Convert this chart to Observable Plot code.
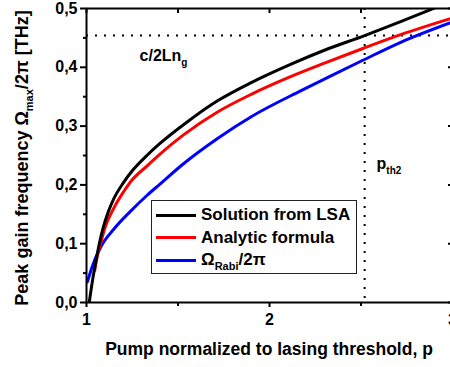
<!DOCTYPE html>
<html><head><meta charset="utf-8">
<script src="https://cdn.jsdelivr.net/npm/d3@7"></script>
<script src="https://cdn.jsdelivr.net/npm/@observablehq/plot@0.6"></script>
<style>
html,body{margin:0;padding:0;background:#fff;overflow:hidden;}
#wrap{position:relative;width:450px;height:367px;overflow:hidden;}
#wrap svg text{font-family:"Liberation Sans",Arial,sans-serif;font-weight:bold;}
#legend{position:absolute;left:151px;top:200px;width:206px;height:74px;border:1px solid #222;background:#fff;font:bold 17px "Liberation Sans",Arial,sans-serif;padding-top:3px;box-sizing:border-box;color:#000;}
#legend .row{height:22.5px;display:flex;align-items:center;white-space:nowrap;}
#legend .sw{width:40px;height:3px;margin-left:4px;margin-right:5px;flex:none;}
#legend sub{font-size:11px;vertical-align:-5px;line-height:0;}
</style>
</head><body><div id="wrap"></div>
<script>
// Solution from LSA (black)
const lsaP = [1.015, 1.03, 1.05, 1.07, 1.09, 1.12, 1.15, 1.2, 1.25, 1.33, 1.4, 1.55, 1.716, 1.9, 2.115, 2.3, 2.52, 2.72, 2.88, 2.95];
const lsaV = [0, 0.032, 0.068, 0.1, 0.126, 0.155, 0.177, 0.203, 0.224, 0.25, 0.27, 0.307, 0.343, 0.374, 0.405, 0.429, 0.454, 0.478, 0.498, 0.507];
// Analytic formula (red)
const anaP = [1.045, 1.06, 1.077, 1.1, 1.15, 1.2, 1.24, 1.33, 1.4, 1.53, 1.716, 1.9, 2.115, 2.3, 2.51, 2.72, 2.99];
const anaV = [0.055, 0.08, 0.1, 0.126, 0.161, 0.187, 0.205, 0.232, 0.252, 0.285, 0.324, 0.354, 0.384, 0.407, 0.432, 0.456, 0.483];
// Omega_Rabi / 2pi (blue)
const rabiP = [1.005, 1.03, 1.077, 1.15, 1.24, 1.33, 1.4, 1.53, 1.716, 1.9, 2.17, 2.3, 2.51, 2.72, 2.99];
const rabiV = [0.035, 0.06, 0.094, 0.125, 0.155, 0.182, 0.201, 0.236, 0.279, 0.316, 0.36, 0.38, 0.412, 0.443, 0.476];

const seriesNames = ["Solution from LSA", "Analytic formula", "Ω_{Rabi}/2π"];
const seriesColors = ["#000000", "#ff0000", "#0000ff"];

const cLevel = [0.454];   // c/2Ln_g
const pTh2 = [2.52];      // p_th2

const yMajor = [0, 0.1, 0.2, 0.3, 0.4, 0.5];
const yMinor = [0.05, 0.15, 0.25, 0.35, 0.45];
const xMajor = [1, 2, 3];
const xMinor = [1.5, 2.5];

const noteP = [1.29, 2.585];
const noteV = [0.42, 0.235];
const noteText = ["c/2Ln_{g}", "p_{th2}"];

const xTitle = "Pump normalized to lasing threshold, p";
const yTitle = "Peak gain frequency Ω_{max}/2π [THz]";

const toRows = (P, V) => P.map((p, i) => ({p, v: V[i]}));
const lsa = toRows(lsaP, lsaV), ana = toRows(anaP, anaV), rabi = toRows(rabiP, rabiV);
const notes = noteP.map((p, i) => ({p, v: noteV[i], label: noteText[i]}));

const commaFmt = d => d.toFixed(1).replace(".", ",");
const blank = () => "";

const chart = Plot.plot({
  width: 450, height: 367,
  marginLeft: 86, marginRight: -2, marginTop: 8, marginBottom: 65,
  x: {domain: [1, 3]},
  y: {domain: [0, 0.5]},
  style: {fontFamily: "Liberation Sans, Arial, sans-serif", fontSize: "16px", fontWeight: "bold", color: "#000", background: "#fff"},
  marks: [
    Plot.ruleY(cLevel, {strokeDasharray: "2,7", strokeWidth: 2, stroke: "#000"}),
    Plot.ruleX(pTh2, {strokeDasharray: "2,7", strokeWidth: 2, stroke: "#000"}),
    Plot.line(rabi, {x: "p", y: "v", stroke: seriesColors[2], strokeWidth: 3, curve: "monotone-x", clip: true}),
    Plot.line(ana, {x: "p", y: "v", stroke: seriesColors[1], strokeWidth: 3, curve: "monotone-x", clip: true}),
    Plot.line(lsa, {x: "p", y: "v", stroke: seriesColors[0], strokeWidth: 3, curve: "monotone-x", clip: true}),
    Plot.frame({strokeWidth: 2, stroke: "#000"}),
    Plot.axisY(yMajor, {anchor: "left", tickSize: 6, tickPadding: 3, tickFormat: commaFmt, strokeWidth: 2, label: null, fontSize: 16, fontWeight: "bold"}),
    Plot.axisY(yMinor, {anchor: "left", tickSize: 3, tickFormat: blank, strokeWidth: 2, label: null}),
    Plot.axisY(yMajor, {anchor: "right", tickSize: -5, tickFormat: blank, strokeWidth: 2, label: null}),
    Plot.axisY(yMinor, {anchor: "right", tickSize: -3, tickFormat: blank, strokeWidth: 2, label: null}),
    Plot.axisX(xMajor, {anchor: "bottom", tickSize: 5, tickPadding: 6, tickFormat: d => String(d), strokeWidth: 2, label: null, fontSize: 16, fontWeight: "bold"}),
    Plot.axisX(xMinor, {anchor: "bottom", tickSize: 4, tickFormat: blank, strokeWidth: 2, label: null}),
    Plot.axisX(xMajor.concat(xMinor), {anchor: "top", tickSize: -4, tickFormat: blank, strokeWidth: 2, label: null}),
    Plot.text(notes, {x: "p", y: "v", text: "label", textAnchor: "start", fontSize: 16, fontWeight: "bold", fill: "#000"})
  ]
});

function applySub(sel, str, subSize, shift) {
  sel.text(null);
  const parts = str.split(/(_\{[^}]*\})/);
  let down = false;
  for (const part of parts) {
    if (!part) continue;
    const m = part.match(/^_\{(.*)\}$/);
    if (m) {
      sel.append("tspan").attr("dy", shift).attr("font-size", subSize).text(m[1]);
      down = true;
    } else {
      const ts = sel.append("tspan").text(part);
      if (down) { ts.attr("dy", -shift); down = false; }
    }
  }
}

const svg = d3.select(chart);
svg.selectAll("text").each(function () {
  const s = this.textContent;
  if (s.includes("_{")) applySub(d3.select(this), s, 10, 5);
});

const xs = chart.scale("x"), ys = chart.scale("y");
const xMid = (xs.range[0] + xs.range[1]) / 2;
const yMid = (ys.range[0] + ys.range[1]) / 2;

const xt = svg.append("text").attr("x", xMid).attr("y", 355).attr("text-anchor", "middle")
  .attr("font-size", 17.5).attr("font-weight", "bold").attr("fill", "#000");
applySub(xt, xTitle, 11, 5);
const yt = svg.append("text").attr("transform", `translate(28,${yMid + 3}) rotate(-90)`).attr("text-anchor", "middle")
  .attr("font-size", 18).attr("font-weight", "bold").attr("fill", "#000");
applySub(yt, yTitle, 11, 5);

const wrap = document.getElementById("wrap");
wrap.appendChild(chart);

const legend = document.createElement("div");
legend.id = "legend";
seriesNames.forEach((name, i) => {
  const row = document.createElement("div");
  row.className = "row";
  const sw = document.createElement("span");
  sw.className = "sw";
  sw.style.background = seriesColors[i];
  row.appendChild(sw);
  const lab = document.createElement("span");
  lab.innerHTML = name.replace(/_\{([^}]*)\}/g, "<sub>$1</sub>");
  row.appendChild(lab);
  legend.appendChild(row);
});
wrap.appendChild(legend);
</script>
</body></html>
